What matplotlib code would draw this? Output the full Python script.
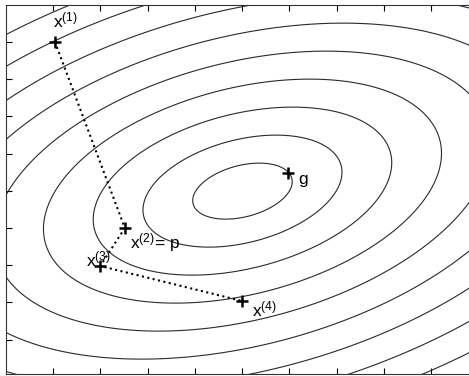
import numpy as np
import matplotlib
matplotlib.use("Agg")
import matplotlib.pyplot as plt

plt.rcParams['font.family'] = ['Liberation Sans', 'DejaVu Sans']
plt.rcParams['mathtext.default'] = 'regular'

# quadratic model: centre and covariance of the level sets (data units)
centre = [5.01, 4.99]
cov = [[1.1086, 0.2670],
       [0.2670, 0.5650]]
levels = [1, 2, 3, 4, 5, 6, 7, 8, 9, 10, 11, 12]

# iterates of the path
path_x = [1.04, 2.52, 2.0, 5.0]
path_y = [9.0, 4.0, 2.98, 2.04]
path_labels = [r'x$^{(1)}$', r'x$^{(2)}$= p', r'x$^{(3)}$', r'x$^{(4)}$']
label_offsets = [(-1.5, 10), (3.5, -14.5), (-10, 0), (7.5, -11)]

# point g
g_x, g_y = 5.98, 5.48

xlim = (0, 10)
ylim = (0.08, 10)

fig = plt.figure(figsize=(4.69, 3.76), dpi=100)
ax = fig.add_axes([0.01226, 0.0053, 1.0075, 0.9827])

xs = np.linspace(-1, 11, 600)
ys = np.linspace(-1, 11, 600)
XX, YY = np.meshgrid(xs, ys)
inv = np.linalg.inv(np.array(cov))
dx = XX - centre[0]
dy = YY - centre[1]
F = np.sqrt(inv[0, 0] * dx**2 + 2 * inv[0, 1] * dx * dy + inv[1, 1] * dy**2)
ax.contour(XX, YY, F, levels=levels, colors='#2a2a2a', linewidths=0.8)

ax.plot(path_x, path_y, linestyle=':', color='black', linewidth=1.5)
ax.plot(path_x, path_y, linestyle='none', marker='+', color='black',
        markersize=8.5, markeredgewidth=1.8)
ax.plot([g_x], [g_y], linestyle='none', marker='+', color='black',
        markersize=8.5, markeredgewidth=1.8)

for px, py, lab, off in zip(path_x, path_y, path_labels, label_offsets):
    ax.annotate(lab, (px, py), xytext=off, textcoords='offset points',
                ha='left', va='baseline', fontsize=12.5)
ax.annotate('g', (g_x, g_y), xytext=(7, -8), textcoords='offset points',
            ha='left', va='baseline', fontsize=12.5)

ax.set_xlim(xlim)
ax.set_ylim(ylim)
ax.set_xticks(range(1, 10))
ax.set_yticks(range(1, 10))
ax.tick_params(direction='in', length=4, width=0.8, top=True, right=True,
               labelbottom=False, labelleft=False)
for s in ax.spines.values():
    s.set_linewidth(0.8)
    s.set_color('#333333')

fig.savefig('out.png', dpi=100)
